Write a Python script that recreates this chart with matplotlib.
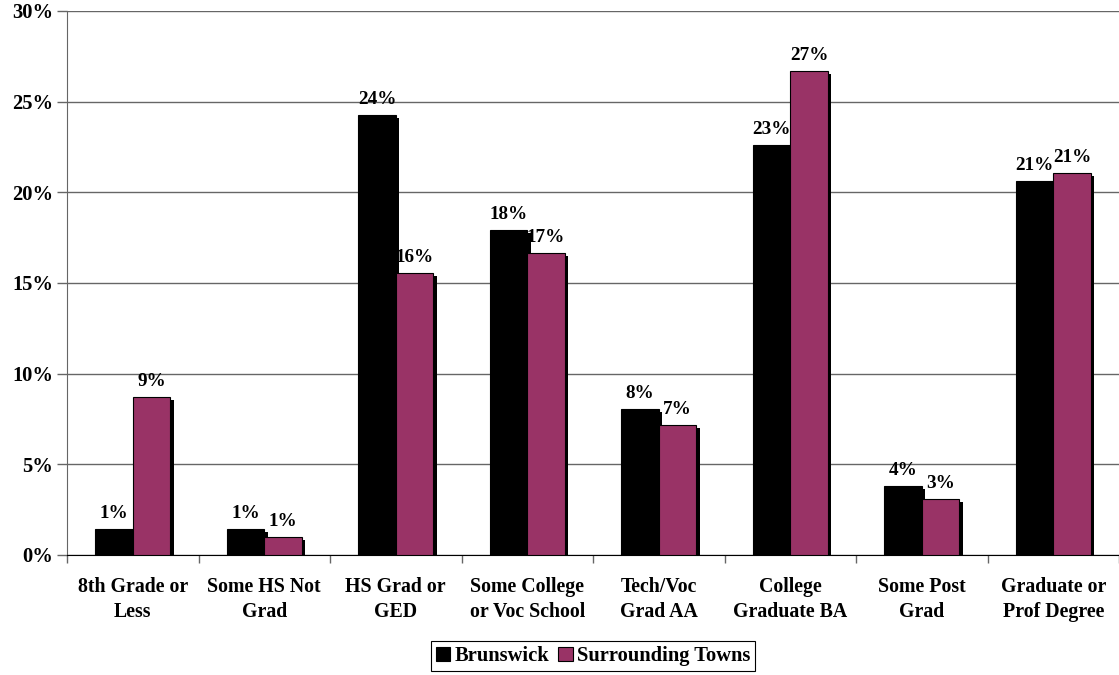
import matplotlib
matplotlib.use("Agg")
import matplotlib.pyplot as plt
import matplotlib.transforms as mtransforms
import numpy as np

categories = [
    "8th Grade or\nLess",
    "Some HS Not\nGrad",
    "HS Grad or\nGED",
    "Some College\nor Voc School",
    "Tech/Voc\nGrad AA",
    "College\nGraduate BA",
    "Some Post\nGrad",
    "Graduate or\nProf Degree",
]
brunswick = [1.43, 1.46, 24.25, 17.9, 8.05, 22.6, 3.82, 20.65]
surrounding = [8.7, 1.02, 15.55, 16.66, 7.17, 26.7, 3.08, 21.05]

BLACK = "#000000"
PLUM = "#993366"
FONT = "Liberation Serif"

plt.rcParams["font.family"] = FONT
plt.rcParams["font.weight"] = "bold"

fig = plt.figure(figsize=(11.19, 6.75), dpi=100)
ax = fig.add_axes([67 / 1119, 1 - 555 / 675, 1 - 67 / 1119, (555 - 11) / 675])

x = np.arange(len(categories))
w = 0.285

# drop shadows, shifted a few pixels right and down
shadow = ax.transData + mtransforms.ScaledTranslation(3.5 / 100, -3 / 100, fig.dpi_scale_trans)
for xs, vals in [(x - w / 2, brunswick), (x + w / 2, surrounding)]:
    ax.bar(xs, vals, w, color=BLACK, linewidth=0, transform=shadow, zorder=2)

b1 = ax.bar(x - w / 2, brunswick, w, color=BLACK, edgecolor=BLACK, linewidth=0.8,
            label="Brunswick", zorder=3)
b2 = ax.bar(x + w / 2, surrounding, w, color=PLUM, edgecolor=BLACK, linewidth=0.8,
            label="Surrounding Towns", zorder=3)

for bars, vals in [(b1, brunswick), (b2, surrounding)]:
    ax.bar_label(bars, labels=[f"{v:.0f}%" for v in vals], padding=5,
                 fontsize=13.8, fontweight="bold", zorder=4)

ax.set_xlim(-0.5, len(categories) - 0.5)
ax.set_ylim(0, 30)
ax.set_yticks(np.arange(0, 31, 5))
ax.set_yticklabels([f"{t}%" for t in range(0, 31, 5)], fontsize=14.8, fontweight="bold")
ax.yaxis.grid(True, color="#666666", linewidth=1)
ax.set_axisbelow(True)

ax.set_xticks(np.arange(len(categories) + 1) - 0.5)
ax.set_xticklabels([])
ax.set_xticks(x, minor=True)
ax.set_xticklabels(categories, minor=True, fontsize=14.3, fontweight="bold",
                   linespacing=1.33)
ax.tick_params(axis="x", which="minor", length=0, pad=16)
ax.tick_params(axis="x", which="major", length=6, width=1, color="#666666")
ax.tick_params(axis="y", length=7, width=1, color="#666666", pad=3)

for s in ["top", "right"]:
    ax.spines[s].set_visible(False)
ax.spines["left"].set_color("#666666")
ax.spines["bottom"].set_color(BLACK)

leg = ax.legend(loc="center", bbox_to_anchor=(0.5, (555 - 656) / 544), ncol=2,
                fancybox=False, edgecolor=BLACK, framealpha=1,
                prop={"family": FONT, "weight": "bold", "size": 14.8},
                handlelength=0.7, handleheight=0.7, handletextpad=0.2,
                columnspacing=0.45, borderpad=0.25)
leg.get_frame().set_linewidth(0.8)

fig.savefig("out.png", dpi=100)
